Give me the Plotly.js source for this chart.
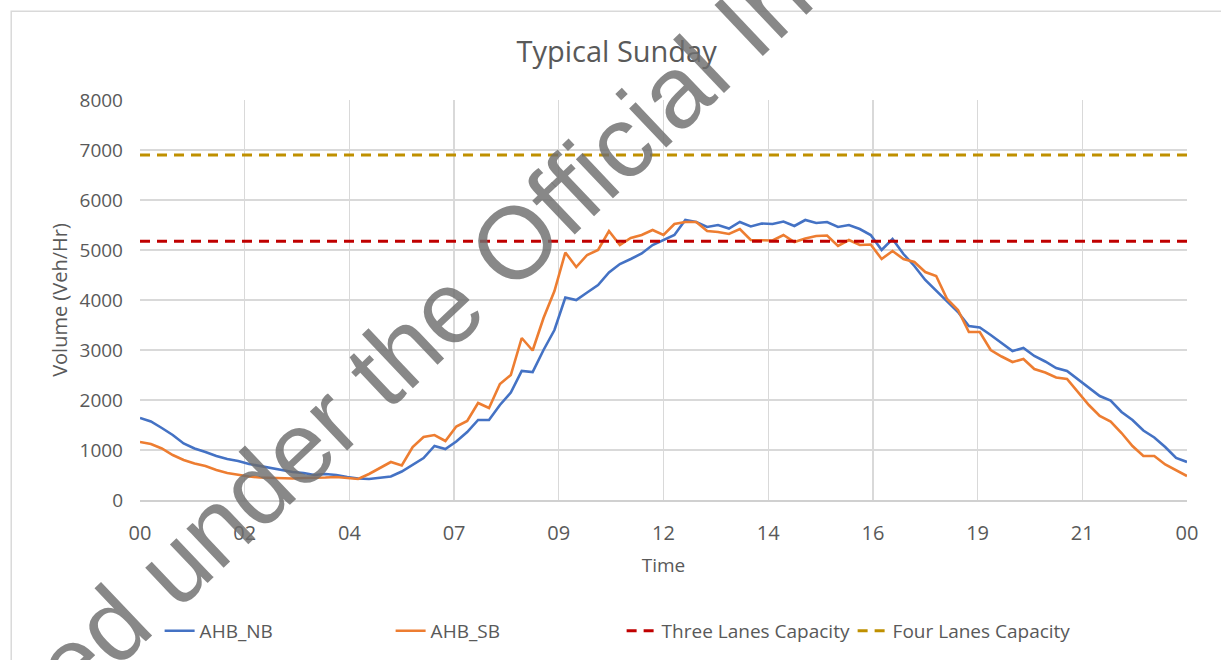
<!DOCTYPE html>
<html>
<head>
<meta charset="utf-8">
<script src="https://cdn.plot.ly/plotly-3.0.1.min.js"></script>
<style>
  html, body { margin: 0; padding: 0; background: #ffffff; }
  #chart { width: 1221px; height: 660px; }
</style>
</head>
<body>
<div id="chart"></div>
<script>
// 15-minute readings, 00:00 to 24:00 (Veh/Hr)
const ahbNB = [
  1640,1570,1440,1300,1130,1030,960,880,820,780,
  720,680,630,600,560,540,500,520,500,460,
  430,420,450,470,570,700,840,1080,1020,1170,
  1360,1600,1600,1900,2150,2580,2560,3000,3400,4050,
  4000,4150,4300,4550,4720,4820,4930,5100,5200,5300,
  5600,5560,5460,5500,5430,5560,5470,5530,5520,5570,
  5480,5600,5540,5560,5460,5500,5420,5300,5000,5220,
  4920,4680,4400,4190,3960,3760,3480,3450,3300,3140,
  2980,3040,2880,2770,2640,2580,2410,2240,2080,1990,
  1760,1600,1390,1250,1060,840,760
];
const ahbSB = [
  1160,1120,1030,900,800,730,680,600,540,500,
  470,450,440,430,430,440,440,450,460,440,
  420,520,640,760,690,1060,1260,1300,1180,1470,
  1580,1940,1840,2320,2500,3240,2990,3640,4180,4950,
  4660,4900,5000,5380,5100,5240,5300,5400,5300,5520,
  5560,5560,5380,5360,5320,5420,5200,5200,5190,5300,
  5160,5230,5280,5290,5080,5200,5100,5110,4820,4980,
  4820,4760,4560,4480,4020,3800,3360,3360,3000,2870,
  2760,2820,2620,2550,2450,2420,2150,1900,1680,1570,
  1340,1080,880,880,710,600,480
];
const threeLanesCapacity = 5175;
const fourLanesCapacity = 6900;
const tickLabels = ['00','02','04','07','09','12','14','16','19','21','00'];
const stepHours = 0.25;
const dayHours = 24;

const times = ahbNB.map((_, i) => i * stepHours);
const tickVals = tickLabels.map((_, i) => i * dayHours / (tickLabels.length - 1));
const capX = [0, dayHours];

const font = 'Open Sans, Liberation Sans, sans-serif';
const textColor = '#595959';

const traces = [
  { x: times, y: ahbNB, name: 'AHB_NB', type: 'scatter', mode: 'lines',
    line: { color: '#4472C4', width: 2.6 } },
  { x: times, y: ahbSB, name: 'AHB_SB', type: 'scatter', mode: 'lines',
    line: { color: '#ED7D31', width: 2.6 } },
  { x: capX, y: [threeLanesCapacity, threeLanesCapacity], name: 'Three Lanes Capacity',
    type: 'scatter', mode: 'lines', line: { color: '#C00000', width: 3, dash: '10px,7px' } },
  { x: capX, y: [fourLanesCapacity, fourLanesCapacity], name: 'Four Lanes Capacity',
    type: 'scatter', mode: 'lines', line: { color: '#BF9000', width: 3, dash: '10px,7px' } }
];

const layout = {
  width: 1221, height: 660,
  margin: { l: 140, r: 34, t: 100, b: 159 },
  paper_bgcolor: '#ffffff', plot_bgcolor: '#ffffff',
  font: { family: font, color: textColor, size: 19 },
  title: { text: 'Typical Sunday', font: { family: font, size: 29, color: textColor },
           xref: 'container', x: 0.505, xanchor: 'center', yref: 'container', y: 0.921, yanchor: 'middle' },
  xaxis: {
    range: [0, dayHours], tickmode: 'array', tickvals: tickVals, ticktext: tickLabels,
    showgrid: true, gridcolor: '#D9D9D9', gridwidth: 1.3, zeroline: false,
    showline: true, linecolor: '#D0D0D0', linewidth: 1.5,
    ticks: '', ticklabelstandoff: 14, tickfont: { size: 20, color: textColor },
    title: { text: 'Time', font: { size: 19, color: textColor }, standoff: 14 },
    automargin: true, fixedrange: true
  },
  yaxis: {
    range: [0, 8000], dtick: 1000, tick0: 0,
    showgrid: true, gridcolor: '#D9D9D9', gridwidth: 1.3, zeroline: false, showline: false,
    ticks: '', ticklabelstandoff: 16, tickfont: { size: 19, color: textColor },
    title: { text: 'Volume (Veh/Hr)', font: { size: 20, color: textColor }, standoff: 6 },
    automargin: true, fixedrange: true
  },
  showlegend: true,
  legend: { orientation: 'h', x: 0.46, xanchor: 'center', y: -0.324, yanchor: 'middle',
            font: { size: 19, color: textColor }, itemwidth: 30, traceorder: 'normal',
            entrywidth: 186, entrywidthmode: 'pixels' },
  shapes: [
    { type: 'rect', xref: 'paper', yref: 'paper', x0: -0.123, x1: 1.04, y0: -0.42, y1: 1.222,
      line: { color: '#D9D9D9', width: 1.5 }, fillcolor: 'rgba(0,0,0,0)', layer: 'below' }
  ],
  annotations: [
    { text: 'Released under the Official Information Act', xref: 'paper', yref: 'paper',
      x: 0.365, y: 0.661, xanchor: 'center', yanchor: 'middle', showarrow: false,
      textangle: -43.5, font: { family: 'Liberation Sans, Arial, sans-serif', size: 102, color: 'rgba(110,110,110,0.82)' } }
  ]
};

Plotly.newPlot('chart', traces, layout, { displayModeBar: false, staticPlot: true });
</script>
</body>
</html>
